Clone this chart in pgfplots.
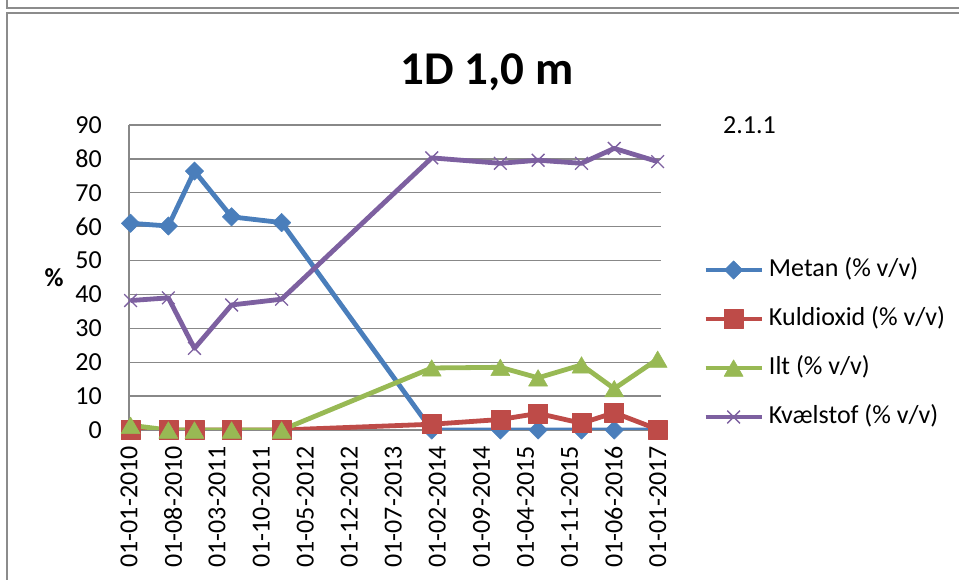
\documentclass[border=0pt]{standalone}
\usepackage{pgfplots}
\pgfplotsset{compat=1.18}
\usepackage{fontspec}
\setmainfont{Carlito}

\definecolor{metan}{HTML}{4A7EBB}
\definecolor{kuld}{HTML}{BE4B48}
\definecolor{ilt}{HTML}{98B954}
\definecolor{kvael}{HTML}{7D60A0}
\definecolor{gridgray}{HTML}{888888}
\definecolor{framegray}{HTML}{8C8C8C}

\newcommand\chartfont{\fontsize{26bp}{31bp}\selectfont}

\begin{document}
\begin{tikzpicture}
\useasboundingbox (0bp,0bp) rectangle (959bp,580bp);
% outer frames
\draw[framegray, line width=2bp] (7bp,581bp) -- (7bp,572bp) -- (960bp,572bp);
\draw[framegray, line width=2bp] (7bp,-1bp) -- (7bp,567bp) -- (960bp,567bp);

\begin{axis}[
  at={(129bp,150bp)}, anchor=south west,
  scale only axis, width=531.8bp, height=305bp,
  xmin=0, xmax=84.5, ymin=0, ymax=90,
  axis lines*=left,
  axis line style={gridgray, line width=1.3bp},
  ymajorgrids,
  major grid style={gridgray, line width=1.3bp},
  major tick length=0pt,
  xtick={0,7,...,84},
  xticklabels={01-01-2010,01-08-2010,01-03-2011,01-10-2011,01-05-2012,01-12-2012,01-07-2013,01-02-2014,01-09-2014,01-04-2015,01-11-2015,01-06-2016,01-01-2017},
  ytick={0,10,...,90},
  tick label style={font=\chartfont, text=black},
  /pgf/number format/assume math mode=true,
  xticklabel style={rotate=90, anchor=east, inner sep=0pt, xshift=2bp},
  xticklabel shift=18bp,
  yticklabel style={anchor=east, inner sep=0pt},
  yticklabel shift=27bp,
  legend cell align=left,
  legend style={draw=none, fill=none, at={(1.0737,0.2836)}, anchor=west,
    font=\chartfont, row sep=25bp, column sep=5bp,
    nodes={inner sep=0pt, text height=18bp, text depth=6bp}},
  legend image code/.code={%
    \draw[mark repeat=2,mark phase=2,#1] plot coordinates {(0bp,0bp) (28bp,0bp) (56bp,0bp)};},
  every axis plot/.append style={line width=4.8bp, line join=round},
]
% months counted from 01-01-2010
\addplot[metan, mark=square*, mark size=6.5bp, mark options={rotate=45, line width=0.5bp}]
  coordinates {(0.25,61.0) (6.25,60.2) (10.4,76.4) (16.3,62.9) (24.25,61.2)
               (48.1,0) (59.0,0) (65.0,0) (71.9,0) (77.1,0) (84.0,0)};
\addlegendentry{Metan (\% v/v)}
\addplot[kuld, mark=square*, mark size=9.5bp, mark options={line width=0.5bp}]
  coordinates {(0.25,0) (6.25,0) (10.4,0) (16.3,0) (24.25,0)
               (48.1,1.7) (59.0,3.1) (65.0,4.9) (71.9,2.0) (77.1,5.1) (84.0,0.2)};
\addlegendentry{Kuldioxid (\% v/v)}
\addplot[ilt, mark=triangle*, mark size=11bp, mark options={yshift=-2.75bp, line width=0.5bp}]
  coordinates {(0.25,1.4) (6.25,0) (10.4,0) (16.3,0) (24.25,0)
               (48.1,18.3) (59.0,18.5) (65.0,15.4) (71.9,19.2) (77.1,12.2) (84.0,20.9)};
\addlegendentry{Ilt (\% v/v)}
\addplot[kvael, mark=x, mark size=9bp, mark options={line width=1.3bp}]
  coordinates {(0.25,38.2) (6.25,39.0) (10.4,24.1) (16.3,36.9) (24.25,38.6)
               (48.1,80.3) (59.0,78.7) (65.0,79.6) (71.9,78.7) (77.1,83.1) (84.0,79.2)};
\addlegendentry{Kvælstof (\% v/v)}
\end{axis}

% titles and labels
\node[anchor=base, inner sep=0pt, font=\fontsize{47bp}{56bp}\selectfont\bfseries] at (487bp,495.6bp) {1D 1,0 m};
\node[anchor=center, inner sep=0pt, font=\chartfont\bfseries] at (54bp,302bp) {\%};
\node[anchor=base west, inner sep=0pt, font=\chartfont] at (723bp,446.7bp) {2.1.1};
\end{tikzpicture}
\end{document}
